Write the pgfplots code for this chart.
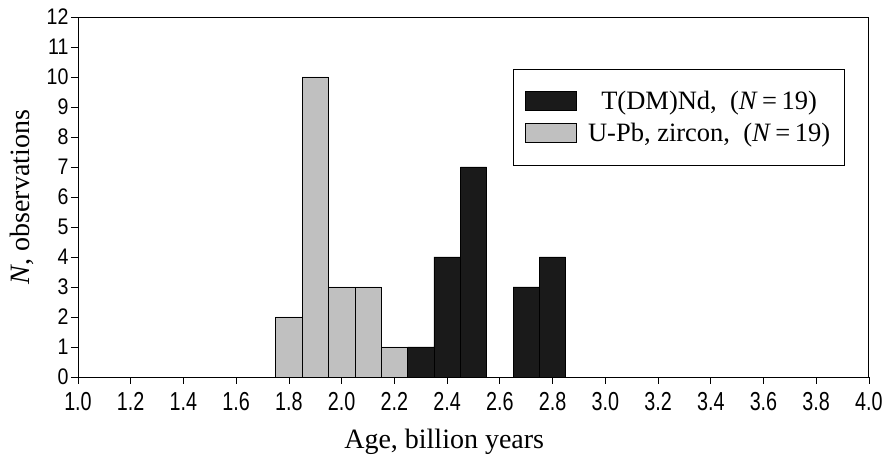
\documentclass[border=0pt]{standalone}
\usepackage{pgfplots}
\pgfplotsset{compat=1.18}
\usepackage{fontspec}
\setmainfont{Liberation Serif}
\newfontfamily\xtickfont[FakeStretch=0.76]{Liberation Sans}
\newfontfamily\ytickfont[FakeStretch=0.87]{Liberation Sans}
\definecolor{barblack}{HTML}{1A1A1A}
\definecolor{bargray}{HTML}{C0C0C0}
\begin{document}
\begin{tikzpicture}
\begin{axis}[
  scale only axis,
  width=791pt, height=360pt,
  xmin=1.0, xmax=4.0, ymin=0, ymax=12,
  enlargelimits=false,
  axis line style={line width=0.9pt},
  xtick={1.0,1.2,...,4.01},
  xticklabels={1.0,1.2,1.4,1.6,1.8,2.0,2.2,2.4,2.6,2.8,3.0,3.2,3.4,3.6,3.8,4.0},
  ytick={0,1,...,12},
  yticklabels={0,1,2,3,4,5,6,7,8,9,10,11,12},
  xtick pos=left, ytick pos=left,
  tick align=outside,
  major tick length=7pt,
  tick style={black, line width=0.8pt},
  x tick label style={font=\xtickfont\fontsize{26}{28}\selectfont, yshift=-5pt},
  y tick label style={font=\ytickfont\fontsize{22.5}{24}\selectfont, xshift=1pt},
  xlabel={Age, billion years},
  ylabel={\textit{N}, observations},
  xlabel style={font=\fontsize{28}{30}\selectfont, at={(axis description cs:0.463,-0.18)}, anchor=center},
  ylabel style={font=\fontsize{28}{30}\selectfont, at={(axis description cs:-0.0708,0.5)}, anchor=center},
  legend style={at={(axis description cs:0.55,0.856)}, anchor=north west,
    font=\fontsize{26.5}{30}\selectfont, draw=black, line width=0.9pt,
    inner xsep=12pt, inner ysep=20pt, row sep=8pt, column sep=9pt},
  legend cell align=center,
]
\addplot[ybar, bar width=0.1, bar shift=0pt, fill=barblack, draw=black, line width=0.6pt,
  legend image code/.code={\draw[fill=barblack, draw=black] (0pt,-9.5pt) rectangle (51pt,9.5pt);}]
  coordinates {(2.3,1) (2.4,4) (2.5,7) (2.7,3) (2.8,4)};
\addlegendentry{T(DM)Nd,~~(\textit{N}\,=\,19)}
\addplot[ybar, bar width=0.1, bar shift=0pt, fill=bargray, draw=black, line width=0.6pt,
  legend image code/.code={\draw[fill=bargray, draw=black] (0pt,-9.5pt) rectangle (51pt,9.5pt);}]
  coordinates {(1.8,2) (1.9,10) (2.0,3) (2.1,3) (2.2,1)};
\addlegendentry{U-Pb, zircon,~~(\textit{N}\,=\,19)}
\end{axis}
\path (current axis.south west) ++(-78pt,-81pt) coordinate (bbl);
\path (current axis.north east) ++(17pt,17pt) coordinate (btr);
\path (bbl) rectangle (btr);
\end{tikzpicture}
\end{document}
